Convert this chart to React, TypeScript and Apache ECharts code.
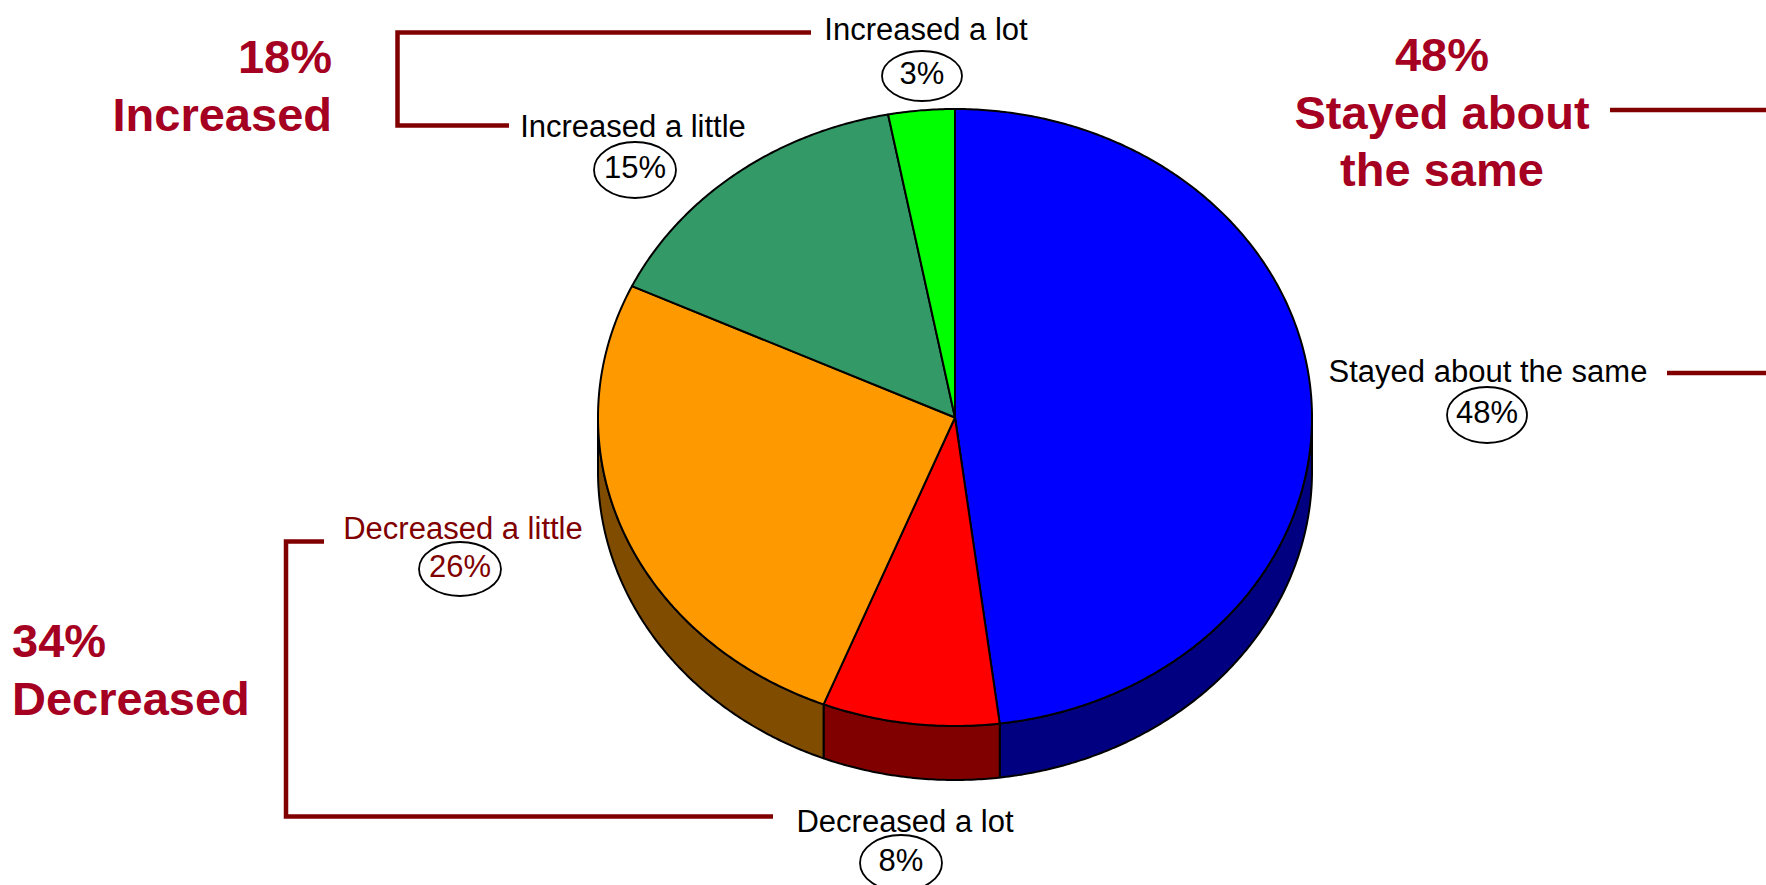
import React, { useEffect, useRef } from "react";
import * as echarts from "echarts";

// ---- data ----
const categories = [
  "Stayed about the same",
  "Decreased a lot",
  "Decreased a little",
  "Increased a little",
  "Increased a lot",
];
const values = [48, 8, 26, 15, 3];
const increasedIdx = [3, 4];
const decreasedIdx = [1, 2];
const stayedIdx = [0];

// ---- styles / layout ----
const topColors = ["#0000FF", "#FF0000", "#FF9900", "#339966", "#00FF00"];
const sideColors = ["#000080", "#800000", "#804C00", "#1A4D33", "#008000"];
const PIE = { cx: 955, cy: 417.5, rx: 357, ry: 308.5, depth: 54 };
const FONT = "Liberation Sans, Arial, Helvetica, sans-serif";
const BIG_COLOR = "#A50021";
const BRACKET_COLOR = "#800000";

// label layout per category index: [labelX, labelY, ellipseX, ellipseY, rx, ry, color]
const labelLayout: [number, number, number, number, number, number, string][] = [
  [1488, 371, 1487, 415, 40, 28, "#000000"],
  [905, 821, 901, 863, 41, 28, "#000000"],
  [463, 528, 460, 569, 41, 27, "#800000"],
  [633, 126, 635, 170, 41, 28, "#000000"],
  [926, 29, 922, 76, 40, 25, "#000000"],
];

function sumOf(idx: number[]) {
  return idx.reduce((s, i) => s + values[i], 0);
}

function textEl(
  text: string,
  x: number,
  y: number,
  size: number,
  color: string,
  align: string,
  bold = false
) {
  return {
    type: "text",
    silent: true,
    style: {
      text,
      x,
      y,
      fill: color,
      font: `${bold ? "bold " : ""}${size}px ${FONT}`,
      align,
      verticalAlign: "middle",
      textAlign: align,
      textVerticalAlign: "middle",
    },
  };
}

export default function App() {
  const ref = useRef<HTMLDivElement>(null);

  useEffect(() => {
    if (!ref.current) return;
    const chart = echarts.init(ref.current, undefined, { renderer: "svg" });
    const total = values.reduce((a, b) => a + b, 0);
    const starts: number[] = [];
    let acc = 0;
    values.forEach((v) => {
      starts.push(acc);
      acc += v;
    });

    const pt = (deg: number, dy = 0) => {
      const r = (deg * Math.PI) / 180;
      return [PIE.cx + PIE.rx * Math.sin(r), PIE.cy - PIE.ry * Math.cos(r) + dy];
    };
    const arc = (a0: number, a1: number, dy = 0) => {
      const pts: number[][] = [];
      const n = Math.max(2, Math.ceil((a1 - a0) / 0.5));
      for (let k = 0; k <= n; k++) pts.push(pt(a0 + ((a1 - a0) * k) / n, dy));
      return pts;
    };

    const renderItem = (params: any, api: any) => {
      const i = params.dataIndex;
      const v = api.value(0);
      const a0 = (starts[i] / total) * 360;
      const a1 = ((starts[i] + v) / total) * 360;
      const children: any[] = [];
      const s = Math.max(a0, 90);
      const e = Math.min(a1, 270);
      if (s < e) {
        const top = arc(s, e);
        const bottom = arc(s, e, PIE.depth).reverse();
        children.push({
          type: "polygon",
          shape: { points: top.concat(bottom) },
          style: { fill: sideColors[i], stroke: "#000", lineWidth: 2, lineJoin: "round" },
        });
      }
      children.push({
        type: "polygon",
        shape: { points: [[PIE.cx, PIE.cy]].concat(arc(a0, a1)) },
        style: { fill: topColors[i], stroke: "#000", lineWidth: 2, lineJoin: "round" },
      });
      return { type: "group", children };
    };

    const graphics: any[] = [];
    // brackets
    const line = (points: number[][]) => ({
      type: "polyline",
      silent: true,
      shape: { points },
      style: { stroke: BRACKET_COLOR, lineWidth: 4.5, fill: null },
    });
    graphics.push(line([[811, 32.5], [397.5, 32.5], [397.5, 125.5], [509, 125.5]]));
    graphics.push(line([[1610, 110], [1766, 110]]));
    graphics.push(line([[1667, 373], [1766, 373]]));
    graphics.push(line([[324, 541.5], [286, 541.5], [286, 816.5], [773, 816.5]]));

    // slice labels
    categories.forEach((c, i) => {
      const [lx, ly, ex, ey, erx, ery, col] = labelLayout[i];
      graphics.push(textEl(c, lx, ly, 31, col, "center"));
      graphics.push({
        type: "ellipse",
        silent: true,
        shape: { cx: ex, cy: ey, rx: erx, ry: ery },
        style: { fill: "#fff", stroke: "#000", lineWidth: 1.8 },
      });
      graphics.push(textEl(`${values[i]}%`, ex, ey - 3, 31, col, "center"));
    });

    // group titles
    graphics.push(textEl(`${sumOf(increasedIdx)}%`, 332, 56, 47, BIG_COLOR, "right", true));
    graphics.push(textEl("Increased", 332, 114, 47, BIG_COLOR, "right", true));
    graphics.push(textEl(`${sumOf(stayedIdx)}%`, 1442, 54, 47, BIG_COLOR, "center", true));
    graphics.push(textEl("Stayed about", 1442, 112, 47, BIG_COLOR, "center", true));
    graphics.push(textEl("the same", 1442, 169, 47, BIG_COLOR, "center", true));
    graphics.push(textEl(`${sumOf(decreasedIdx)}%`, 12, 640, 47, BIG_COLOR, "left", true));
    graphics.push(textEl("Decreased", 12, 698, 47, BIG_COLOR, "left", true));

    chart.setOption({
      animation: false,
      backgroundColor: "#ffffff",
      series: [
        {
          type: "custom",
          coordinateSystem: "none",
          renderItem,
          data: values.map((v, i) => ({ value: [v], name: categories[i] })),
          silent: true,
        },
      ],
      graphic: { elements: graphics },
    });

    return () => chart.dispose();
  }, []);

  return (
    <div
      ref={ref}
      style={{ position: "fixed", left: 0, top: 0, width: 1766, height: 885, background: "#fff" }}
    />
  );
}
